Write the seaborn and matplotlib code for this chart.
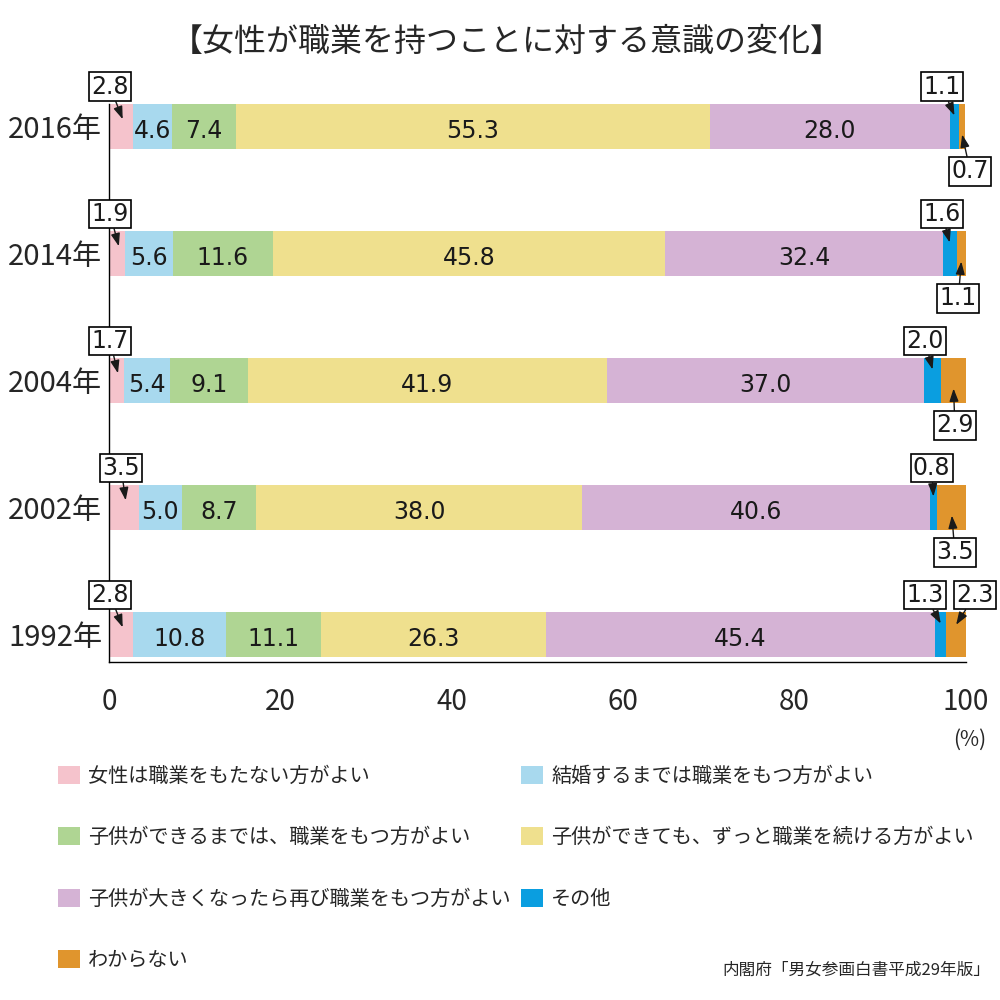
import numpy as np
import pandas as pd
import seaborn as sns
import matplotlib.pyplot as plt
from matplotlib.patches import Patch

years = ['2016年', '2014年', '2004年', '2002年', '1992年']
categories = ['女性は職業をもたない方がよい',
              '結婚するまでは職業をもつ方がよい',
              '子供ができるまでは、職業をもつ方がよい',
              '子供ができても、ずっと職業を続ける方がよい',
              '子供が大きくなったら再び職業をもつ方がよい',
              'その他',
              'わからない']
colors = ['#f5c3cc', '#a8d9ee', '#afd593', '#efe08e', '#d5b3d5', '#0a9ee0', '#e0952d']

no_job = [2.8, 1.9, 1.7, 3.5, 2.8]
until_marriage = [4.6, 5.6, 5.4, 5.0, 10.8]
until_child = [7.4, 11.6, 9.1, 8.7, 11.1]
keep_working = [55.3, 45.8, 41.9, 38.0, 26.3]
return_later = [28.0, 32.4, 37.0, 40.6, 45.4]
other = [1.1, 1.6, 2.0, 0.8, 1.3]
dont_know = [0.7, 1.1, 2.9, 3.5, 2.3]

# label placement for the small segments (offsets from segment middle)
other_dx = [-1.45, -0.9, -0.9, -0.2, -1.85]
dont_know_dx = [0.95, -0.35, 0.15, 0.35, 2.2]
dont_know_above = [False, False, False, False, True]

df = pd.DataFrame(dict(zip(categories, [no_job, until_marriage, until_child,
                                        keep_working, return_later, other, dont_know])))
df['year'] = years
cum = df[categories].cumsum(axis=1)
cum['year'] = years

sns.set_style('white')
plt.rcParams['font.family'] = ['Noto Sans CJK JP', 'DejaVu Sans']

fig = plt.figure(figsize=(10, 10), dpi=100)
ax = fig.add_axes([0.109, 0.338, 0.857, 0.558])

# stacked bars: draw cumulative totals from longest to shortest
for i in reversed(range(len(categories))):
    sns.barplot(data=cum, x=categories[i], y='year', order=years, orient='h',
                color=colors[i], saturation=1, width=0.355, linewidth=0, ax=ax)

ax.set_xlim(0, 100)
ax.set_ylim(4.213, -0.18)
ax.set_xlabel('')
ax.set_ylabel('')
ax.set_xticks(range(0, 101, 20))
ax.tick_params(axis='x', direction='out', length=8, width=1, color='black',
               labelsize=20, pad=10)
ax.tick_params(axis='y', which='major', length=0, labelsize=21, pad=5)
ax.set_yticks([0.5, 1.5, 2.5, 3.5], minor=True)
ax.tick_params(axis='y', which='minor', direction='in', length=8, width=1, color='black')
for s in ['top', 'right']:
    ax.spines[s].set_visible(False)
for s in ['left', 'bottom']:
    ax.spines[s].set_color('black')
    ax.spines[s].set_linewidth(1)

num_font = dict(fontsize=17, fontfamily='DejaVu Sans', color='#1a1a1a')

# numbers inside bars
for j in range(len(years)):
    for i in range(1, 5):
        v = df[categories[i]][j]
        mid = cum[categories[i]][j] - v / 2
        ax.text(mid, j + 0.03, f'{v:.1f}', ha='center', va='center', **num_font)

box = dict(boxstyle='square,pad=0.1', fc='white', ec='black', lw=1.2)
arrow = dict(arrowstyle='-|>,head_length=0.45,head_width=0.16', color='#1a1a1a',
             lw=1, shrinkA=0, shrinkB=0)


def callout(text, tip, pos):
    ax.annotate(text, xy=tip, xytext=pos, ha='center', va='center',
                bbox=box, arrowprops=arrow, annotation_clip=False, zorder=5,
                **num_font)


for j in range(len(years)):
    v0 = df[categories[0]][j]
    mid0 = v0 / 2
    tx = 0.12 if v0 < 3 else mid0 - 0.35
    callout(f'{v0:.1f}', (mid0 + 0.2, j - 0.06), (tx, j - 0.315))

    v5 = df[categories[5]][j]
    mid5 = cum[categories[5]][j] - v5 / 2
    callout(f'{v5:.1f}', (mid5, j - 0.09), (mid5 + other_dx[j], j - 0.315))

    v6 = df[categories[6]][j]
    mid6 = cum[categories[6]][j] - v6 / 2
    if dont_know_above[j]:
        callout(f'{v6:.1f}', (mid6, j - 0.08), (mid6 + dont_know_dx[j], j - 0.315))
    else:
        callout(f'{v6:.1f}', (mid6, j + 0.06), (mid6 + dont_know_dx[j], j + 0.35))

fig.text(0.507, 0.958, '【女性が職業を持つことに対する意識の変化】', ha='center',
         va='center', fontsize=23)
fig.text(0.986, 0.26, '(%)', ha='right', va='center', fontsize=15)

handles = [Patch(facecolor=c, edgecolor='none') for c in colors]
order = [0, 2, 4, 6, 1, 3, 5]
fig.legend([handles[k] for k in order], [categories[k] for k in order], ncol=2,
           loc='upper left', bbox_to_anchor=(0.058, 0.234), frameon=False,
           fontsize=14.5, handlelength=1.1, handleheight=1.0, handletextpad=0.4,
           labelspacing=2.0, columnspacing=0.5, borderpad=0, borderaxespad=0)

fig.text(0.99, 0.03, '内閣府「男女参画白書平成29年版」', ha='right', va='center',
         fontsize=12)

fig.savefig('out.png', dpi=100)
